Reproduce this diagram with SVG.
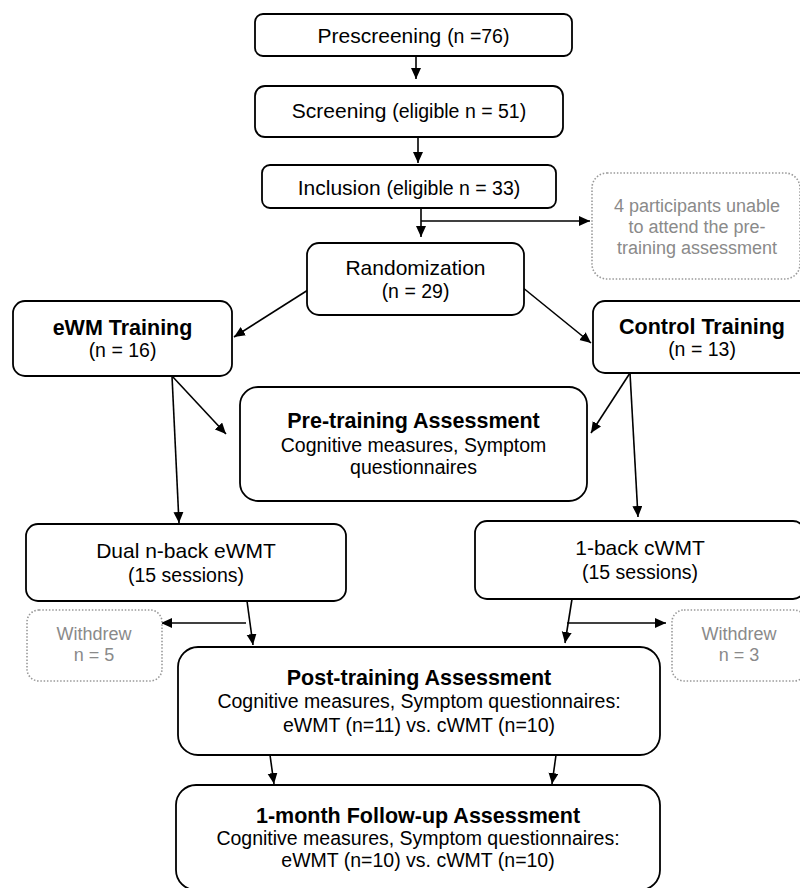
<svg xmlns="http://www.w3.org/2000/svg" width="800" height="888" viewBox="0 0 800 888">
<defs>
<style>
.box{fill:#fff;stroke:#000;stroke-width:1.8}
.gbox{fill:#fff;stroke:#999;stroke-width:1.6;stroke-dasharray:1.5 1.8}
text{font-family:"Liberation Sans",Arial,sans-serif;fill:#000;text-anchor:middle}
.t{font-size:21px}
.b{font-size:21.5px;font-weight:bold}
.s{font-size:19.5px}
.g{font-size:18px;fill:#8a8a8a}
.c line{stroke:#000;stroke-width:1.6;marker-end:url(#ah)}
</style>
<marker id="ah" markerUnits="userSpaceOnUse" markerWidth="12" markerHeight="11" refX="11" refY="5" orient="auto">
<path d="M0,0 L11,5 L0,10 z" fill="#000"/>
</marker>
</defs>
<rect width="800" height="888" fill="#fff"/>

<g id="connectors" class="c">
<line x1="416" y1="56" x2="416" y2="79"/>
<line x1="418" y1="137" x2="418" y2="163"/>
<line x1="421" y1="208" x2="421" y2="237"/>
<line x1="421" y1="221" x2="590" y2="221"/>
<line x1="308" y1="290" x2="234" y2="337"/>
<line x1="522" y1="287" x2="591" y2="343"/>
<line x1="172" y1="376" x2="226" y2="434"/>
<line x1="172" y1="376" x2="179" y2="523"/>
<line x1="630" y1="373" x2="591" y2="433"/>
<line x1="630" y1="373" x2="638" y2="517"/>
<line x1="247" y1="601" x2="253" y2="645"/>
<line x1="246" y1="623" x2="161" y2="623"/>
<line x1="572" y1="599" x2="565" y2="643"/>
<line x1="567" y1="623" x2="666" y2="623"/>
<line x1="270" y1="755" x2="274" y2="784"/>
<line x1="556" y1="755" x2="552" y2="784"/>
</g>

<g id="prescreening">
<rect class="box" x="255" y="14" width="317" height="42" rx="8"/>
<text x="413.5" y="43"><tspan class="t">Prescreening </tspan><tspan class="s">(n =76)</tspan></text>
</g>
<g id="screening">
<rect class="box" x="255" y="86" width="308" height="51" rx="10"/>
<text x="409" y="118"><tspan class="t">Screening </tspan><tspan class="s">(eligible n = 51)</tspan></text>
</g>
<g id="inclusion">
<rect class="box" x="262" y="165" width="294" height="43" rx="8"/>
<text x="409" y="195"><tspan class="t">Inclusion </tspan><tspan class="s">(eligible n = 33)</tspan></text>
</g>
<g id="excluded-pre">
<rect class="gbox" x="592" y="173" width="208" height="106" rx="15"/>
<text class="g" x="697" y="212">4 participants unable</text>
<text class="g" x="697" y="233">to attend the pre-</text>
<text class="g" x="697" y="254">training assessment</text>
</g>
<g id="randomization">
<rect class="box" x="307" y="243" width="217" height="72" rx="12"/>
<text class="t" x="415.5" y="275">Randomization</text>
<text class="s" x="415.5" y="298">(n = 29)</text>
</g>
<g id="ewm-training">
<rect class="box" x="13" y="301" width="219" height="75" rx="12"/>
<text class="b" x="122.5" y="335">eWM Training</text>
<text class="s" x="122.5" y="357">(n = 16)</text>
</g>
<g id="control-training">
<rect class="box" x="593" y="301" width="219" height="72" rx="12"/>
<text class="b" x="702" y="334">Control Training</text>
<text class="s" x="702" y="356">(n = 13)</text>
</g>
<g id="pre-training">
<rect class="box" x="240" y="387" width="347" height="114" rx="18"/>
<text class="b" x="413.5" y="428">Pre-training Assessment</text>
<text class="s" x="413.5" y="452">Cognitive measures, Symptom</text>
<text class="s" x="413.5" y="474">questionnaires</text>
</g>
<g id="dual-nback">
<rect class="box" x="26" y="524" width="320" height="77" rx="12"/>
<text class="t" x="186" y="558">Dual n-back eWMT</text>
<text class="s" x="186" y="582">(15 sessions)</text>
</g>
<g id="one-back">
<rect class="box" x="475" y="521" width="330" height="78" rx="12"/>
<text class="t" x="640" y="555">1-back cWMT</text>
<text class="s" x="640" y="579">(15 sessions)</text>
</g>
<g id="withdrew-5">
<rect class="gbox" x="27" y="610" width="135" height="71" rx="12"/>
<text class="g" x="94" y="640">Withdrew</text>
<text class="g" x="94" y="661">n = 5</text>
</g>
<g id="withdrew-3">
<rect class="gbox" x="672" y="610" width="134" height="71" rx="12"/>
<text class="g" x="739" y="640">Withdrew</text>
<text class="g" x="739" y="661">n = 3</text>
</g>
<g id="post-training">
<rect class="box" x="178" y="647" width="482" height="108" rx="20"/>
<text class="b" x="419" y="685">Post-training Assessment</text>
<text class="s" x="419" y="708">Cognitive measures, Symptom questionnaires:</text>
<text class="s" x="419" y="732">eWMT (n=11) vs. cWMT (n=10)</text>
</g>
<g id="follow-up">
<rect class="box" x="176" y="785" width="484" height="105" rx="20"/>
<text class="b" x="418" y="823">1-month Follow-up Assessment</text>
<text class="s" x="418" y="845">Cognitive measures, Symptom questionnaires:</text>
<text class="s" x="418" y="867">eWMT (n=10) vs. cWMT (n=10)</text>
</g>
</svg>
